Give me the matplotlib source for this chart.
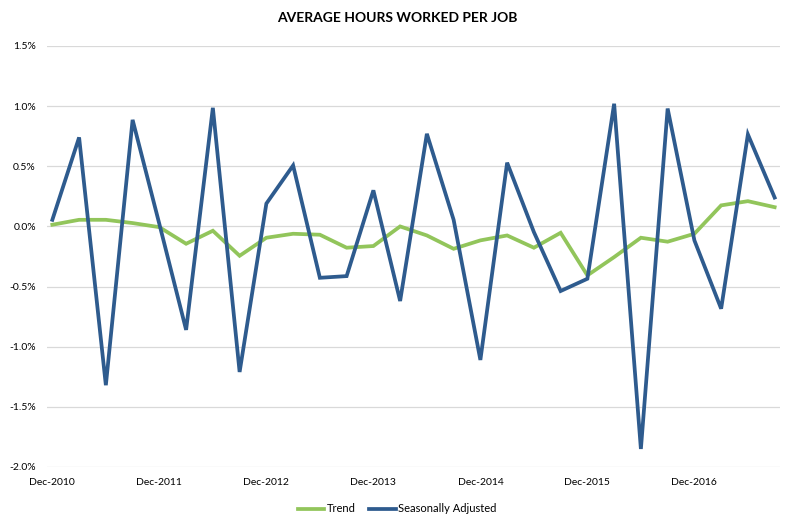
import matplotlib
matplotlib.use("Agg")
import matplotlib.pyplot as plt
from matplotlib.ticker import FuncFormatter

plt.rcParams['font.family'] = ['Lato', 'DejaVu Sans']

quarters = ["Dec-2010", "Mar-2011", "Jun-2011", "Sep-2011", "Dec-2011", "Mar-2012", "Jun-2012",
            "Sep-2012", "Dec-2012", "Mar-2013", "Jun-2013", "Sep-2013", "Dec-2013", "Mar-2014",
            "Jun-2014", "Sep-2014", "Dec-2014", "Mar-2015", "Jun-2015", "Sep-2015", "Dec-2015",
            "Mar-2016", "Jun-2016", "Sep-2016", "Dec-2016", "Mar-2017", "Jun-2017", "Sep-2017"]

trend = [0.014, 0.055, 0.055, 0.028, -0.006, -0.144, -0.036, -0.244, -0.094, -0.061,
         -0.069, -0.177, -0.163, 0.0, -0.075, -0.186, -0.116, -0.075, -0.177, -0.053,
         -0.407, -0.255, -0.094, -0.127, -0.061, 0.175, 0.21, 0.16]

seasonally_adjusted = [0.055, 0.74, -1.32, 0.886, 0.02, -0.86, 0.986, -1.21, 0.19, 0.507,
                       -0.427, -0.413, 0.30, -0.62, 0.77, 0.055, -1.11, 0.53, -0.047, -0.537,
                       -0.435, 1.02, -1.85, 0.98, -0.116, -0.684, 0.765, 0.24]

tick_labels = ["Dec-2010", "Dec-2011", "Dec-2012", "Dec-2013", "Dec-2014", "Dec-2015", "Dec-2016"]

fig = plt.figure(figsize=(7.94, 5.29), dpi=100)
ax = fig.add_axes([47/794, 1-467/529, (780-47)/794, (467-46)/529])

x = list(range(len(quarters)))
ax.plot(x, trend, color='#92C55B', lw=2.7, label='Trend', solid_joinstyle='miter', zorder=3)
ax.plot(x, seasonally_adjusted, color='#2E5B8E', lw=2.7, label='Seasonally Adjusted',
        solid_joinstyle='miter', zorder=4)

ax.set_xlim(-0.2, len(quarters) - 0.8)
ax.set_ylim(-2.0, 1.5)
ax.set_yticks([-2.0, -1.5, -1.0, -0.5, 0.0, 0.5, 1.0, 1.5])
ax.yaxis.set_major_formatter(FuncFormatter(lambda v, p: f"{v:.1f}%"))
tick_pos = [quarters.index(t) for t in tick_labels]
ax.set_xticks(tick_pos)
ax.set_xticklabels(tick_labels)
ax.grid(axis='y', color='#D9D9D9', lw=0.9)
ax.set_axisbelow(True)
for s in ax.spines.values():
    s.set_visible(False)
ax.tick_params(axis='both', length=0, labelsize=7.5, colors='#000000')
ax.tick_params(axis='y', pad=8)
ax.tick_params(axis='x', pad=8)

fig.text(0.5, 1-18/529, "AVERAGE HOURS WORKED PER JOB", ha='center', va='center',
         fontsize=10, fontweight='bold')

fig.legend(loc='center', bbox_to_anchor=(0.5, 1-509/529), ncol=2, frameon=False,
           fontsize=8, handlelength=2.4, handletextpad=0.2, columnspacing=1.2)

fig.savefig("out.png", dpi=100)
